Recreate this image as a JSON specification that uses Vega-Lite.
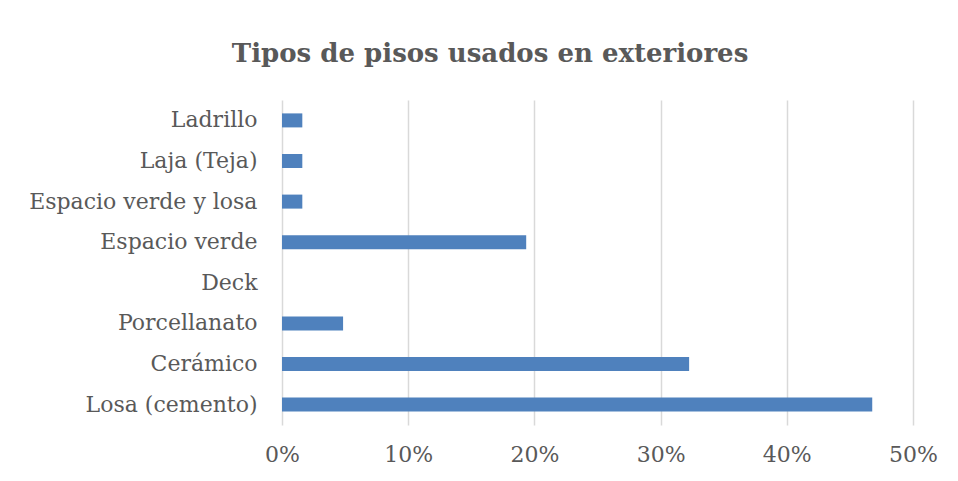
{
  "$schema": "https://vega.github.io/schema/vega-lite/v6.json",
  "width": 631,
  "height": 325,
  "autosize": {"type": "none"},
  "padding": {"left": 282, "top": 100, "right": 45, "bottom": 56},
  "background": "white",
  "title": {
    "text": "Tipos de pisos usados en exteriores",
    "font": "DejaVu Serif",
    "fontSize": 26,
    "fontWeight": "bold",
    "color": "#595959",
    "anchor": "middle",
    "frame": "bounds",
    "baseline": "alphabetic",
    "offset": 12,
    "dx": 7
  },
  "data": {
    "values": [
      {"tipo": "Ladrillo", "pct": 0.0161},
      {"tipo": "Laja (Teja)", "pct": 0.0161},
      {"tipo": "Espacio verde y losa", "pct": 0.0161},
      {"tipo": "Espacio verde", "pct": 0.1935},
      {"tipo": "Deck", "pct": 0},
      {"tipo": "Porcellanato", "pct": 0.0484},
      {"tipo": "Cerámico", "pct": 0.3226},
      {"tipo": "Losa (cemento)", "pct": 0.4677}
    ]
  },
  "mark": {"type": "bar", "color": "#4F81BD"},
  "encoding": {
    "y": {
      "field": "tipo",
      "type": "nominal",
      "sort": null,
      "scale": {"paddingInner": 0.655, "paddingOuter": 0.33},
      "axis": {
        "title": null,
        "ticks": false,
        "domain": false,
        "labelFont": "DejaVu Serif",
        "labelFontSize": 22,
        "labelColor": "#595959",
        "labelPadding": 25,
        "labelLimit": 400
      }
    },
    "x": {
      "field": "pct",
      "type": "quantitative",
      "scale": {"domain": [0, 0.5], "nice": false},
      "axis": {
        "title": null,
        "values": [0, 0.1, 0.2, 0.3, 0.4, 0.5],
        "format": ".0%",
        "ticks": false,
        "domain": false,
        "grid": true,
        "gridColor": "#D9D9D9",
        "gridWidth": 1.5,
        "labelFlush": false,
        "labelFont": "DejaVu Serif",
        "labelFontSize": 22,
        "labelColor": "#595959",
        "labelPadding": 19
      }
    }
  },
  "config": {"view": {"stroke": null}}
}
